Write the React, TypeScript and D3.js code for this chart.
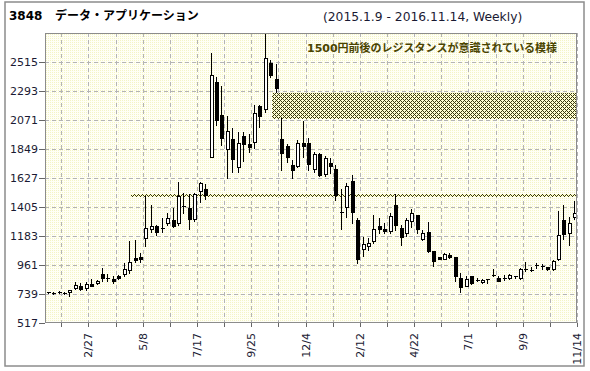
import React from 'react';
import * as d3 from 'd3';

// ---------- data ----------
const opens = [752, 750, 756, 748, 754, 784, 804, 784, 817, 822, 893, 860, 855, 878, 891, 924, 1016, 1021, 1166, 1240,
  1260, 1247, 1285, 1306, 1280, 1410, 1400, 1315, 1530, 1540, 1789, 2362, 2108, 1846, 1922, 1708, 1947, 1885, 1904, 2176,
  2159, 2510, 2388, 1922, 1871, 1726, 1720, 1896, 1896, 1693, 1810, 1657, 1744, 1693, 1364, 1407, 1604, 1306, 1082, 1110,
  1145, 1260, 1237, 1224, 1420, 1243, 1204, 1301, 1344, 1158, 1217, 1069, 1021, 1008, 1038, 1026, 865, 804, 873, 843,
  832, 853, 881, 865, 865, 865, 878, 860, 932, 925, 963, 954, 942, 929, 1006, 1306, 1209, 1331];
const highs = [755, 753, 760, 752, 772, 830, 822, 830, 853, 847, 937, 891, 878, 886, 975, 1145, 1153, 1052, 1489, 1422,
  1268, 1319, 1362, 1400, 1598, 1510, 1502, 1510, 1598, 1578, 2584, 2400, 2331, 2100, 2006, 1980, 1980, 1962, 2184, 2184,
  2737, 2530, 2502, 2083, 1891, 1767, 1917, 2065, 1930, 1827, 1815, 1795, 1777, 1730, 1540, 1586, 1650, 1319, 1178, 1166,
  1344, 1323, 1281, 1357, 1504, 1268, 1319, 1387, 1344, 1230, 1293, 1071, 1026, 1052, 1052, 1026, 903, 880, 880, 860,
  853, 855, 929, 873, 886, 893, 880, 937, 987, 944, 975, 970, 949, 1000, 1374, 1420, 1331, 1451];
const lows = [746, 742, 748, 740, 723, 780, 766, 771, 797, 816, 842, 835, 822, 855, 880, 903, 987, 987, 1110, 1217,
  1191, 1217, 1268, 1255, 1268, 1362, 1237, 1300, 1446, 1466, 1789, 2030, 1879, 1624, 1675, 1675, 1759, 1827, 1853, 2019,
  2133, 2400, 2286, 1690, 1751, 1624, 1712, 1789, 1688, 1675, 1642, 1642, 1663, 1462, 1237, 1331, 1281, 980, 1031, 1077,
  1128, 1204, 1204, 1204, 1229, 1115, 1184, 1255, 1204, 1153, 1064, 955, 1006, 1006, 1018, 842, 758, 797, 814, 835,
  827, 822, 873, 842, 847, 855, 865, 855, 918, 916, 937, 931, 919, 924, 1000, 1158, 1115, 1311];
const closes = [748, 748, 750, 744, 769, 809, 779, 817, 804, 840, 865, 857, 840, 865, 929, 983, 1000, 1006, 1243, 1260,
  1217, 1237, 1319, 1262, 1491, 1406, 1315, 1502, 1586, 1497, 2413, 2069, 1930, 1985, 1769, 1896, 1891, 1866, 2121, 2100,
  2548, 2418, 2318, 1815, 1785, 1685, 1893, 1871, 1734, 1810, 1650, 1782, 1720, 1497, 1360, 1565, 1369, 1006, 1123, 1128,
  1235, 1237, 1224, 1336, 1268, 1174, 1306, 1362, 1237, 1209, 1071, 995, 1008, 1044, 1026, 873, 792, 855, 827, 841,
  847, 851, 879, 842, 855, 886, 868, 931, 930, 923, 961, 942, 931, 995, 1191, 1197, 1285, 1357];

const yTicks = [517, 739, 961, 1183, 1405, 1627, 1849, 2071, 2293, 2515];
const yMax = 2737;
const xLabels = ['2/27', '5/8', '7/17', '9/25', '12/4', '2/12', '4/22', '7/1', '9/9', '11/14'];
const xLabelIndex = [7, 17, 27, 37, 47, 57, 67, 77, 87, 97];
const xTickIndex = d3.range(2, 98, 5);

// resistance zones: start week index, low price, high price
const zoneStart = [41, 15];
const zoneLow = [2080, 1478];
const zoneHigh = [2281, 1502];

const title = '3848';
const titleName = 'データ・アプリケーション';
const subtitle = '(2015.1.9 - 2016.11.14, Weekly)';
const note = '1500円前後のレジスタンスが意識されている模様';

// ---------- layout ----------
const W = 590, H = 371;
const L = 45, R = 577, T = 33, B = 323;

export default function App() {
  const n = opens.length;
  const x = d3.scaleLinear().domain([-0.5, n - 0.5]).range([L, R]);
  const y = d3.scaleLinear().domain([yTicks[0], yMax]).range([B, T]);
  const snap = (v: number) => Math.round(v) + 0.5;
  const font = "'DejaVu Sans', Verdana, sans-serif";
  const jp = "'DejaVu Sans', 'Noto Sans CJK JP', sans-serif";

  return (
    <svg width={W} height={H} style={{ position: 'absolute', left: 0, top: 0 }} xmlns="http://www.w3.org/2000/svg">
      <defs>
        <pattern id="bg" width="2" height="2" patternUnits="userSpaceOnUse">
          <rect width="2" height="2" fill="#fffff6" />
          <rect width="1" height="1" fill="#f4f4c6" />
        </pattern>
        <pattern id="hatch" width="4" height="4" patternUnits="userSpaceOnUse">
          <rect width="4" height="4" fill="#ffffd0" />
          <rect x="0" y="0" width="1" height="1" fill="#3a3a10" />
          <rect x="1" y="1" width="1" height="1" fill="#3a3a10" />
          <rect x="2" y="2" width="1" height="1" fill="#3a3a10" />
          <rect x="3" y="3" width="1" height="1" fill="#3a3a10" />
          <rect x="3" y="1" width="1" height="1" fill="#3a3a10" />
          <rect x="1" y="3" width="1" height="1" fill="#3a3a10" />
        </pattern>
      </defs>
      <rect x={0} y={0} width={W} height={H} fill="#fff" />
      <rect x={5} y={2} width={579} height={364} fill="#fff" stroke="#8c8c8c" strokeWidth={1.5} />

      {/* plot background */}
      <rect x={L} y={T} width={R - L} height={B - T} fill="url(#bg)" />

      {/* grid */}
      <g stroke="#b4b4b4" strokeDasharray="4,3" shapeRendering="crispEdges">
        {yTicks.slice(1).map(t => (
          <line key={'gy' + t} x1={L} x2={R} y1={snap(y(t))} y2={snap(y(t))} />
        ))}
        {xTickIndex.map(i => (
          <line key={'gx' + i} x1={snap(x(i + 0.5))} x2={snap(x(i + 0.5))} y1={T} y2={B} />
        ))}
      </g>

      {/* resistance zones */}
      {zoneStart.map((s, k) => (
        <rect key={'z' + k} x={Math.round(x(s)) + 2} y={Math.round(y(zoneHigh[k]))}
          width={R - Math.round(x(s)) - 2} height={Math.round(y(zoneLow[k])) - Math.round(y(zoneHigh[k]))}
          fill="url(#hatch)" />
      ))}

      {/* candles */}
      <g shapeRendering="crispEdges">
        {opens.map((o, i) => {
          const c = closes[i];
          const px = Math.round(x(i));
          const top = Math.round(y(Math.max(o, c)));
          const bot = Math.round(y(Math.min(o, c)));
          const up = c >= o;
          return (
            <g key={'c' + i}>
              <line x1={px + 0.5} x2={px + 0.5} y1={Math.round(y(highs[i]))} y2={Math.round(y(lows[i])) + 1} stroke="#000" />
              {bot - top < 2 ? (
                <rect x={px - 1} y={top} width={4} height={Math.max(1, bot - top)} fill="#000" />
              ) : (
                <rect x={px - 1.5 + 0.5} y={top + 0.5} width={3} height={bot - top}
                  fill={up ? '#fff' : '#000'} stroke="#000" strokeWidth={1} />
              )}
            </g>
          );
        })}
      </g>

      {/* plot frame */}
      <rect x={L + 0.5} y={T + 0.5} width={R - L - 1} height={B - T - 1} fill="none" stroke="#8c8c8c" shapeRendering="crispEdges" />

      {/* y axis */}
      <g fontFamily={font} fontSize={11} fill="#1a1a33">
        {yTicks.map(t => (
          <g key={'yt' + t}>
            <line x1={L - 6} x2={L} y1={snap(y(t))} y2={snap(y(t))} stroke="#666" shapeRendering="crispEdges" />
            <text x={38} y={y(t) + 4} textAnchor="end">{t}</text>
          </g>
        ))}
      </g>

      {/* x axis */}
      <g fontFamily={font} fontSize={11} fill="#1a1a33">
        {xTickIndex.map(i => (
          <line key={'xt' + i} x1={snap(x(i + 0.5))} x2={snap(x(i + 0.5))} y1={B} y2={B + 4} stroke="#666" shapeRendering="crispEdges" />
        ))}
        {xLabelIndex.map((i, k) => (
          <text key={'xl' + k} transform={`translate(${x(i + 0.5) + 4},${B + 10}) rotate(-90)`} textAnchor="end">{xLabels[k]}</text>
        ))}
      </g>

      {/* titles */}
      <text x={9} y={20} fontFamily={font} fontWeight="bold" fontSize={12} fill="#000">{title}</text>
      <text x={55} y={20} fontFamily={jp} fontWeight="bold" fontSize={12} fill="#000">{titleName}</text>
      <text x={323} y={21} fontFamily={font} fontSize={12.3} fill="#1a1a33">{subtitle}</text>
      <text x={307} y={52} fontFamily={jp} fontWeight="bold" fontSize={11} fill="#4a4400">{note}</text>
    </svg>
  );
}
